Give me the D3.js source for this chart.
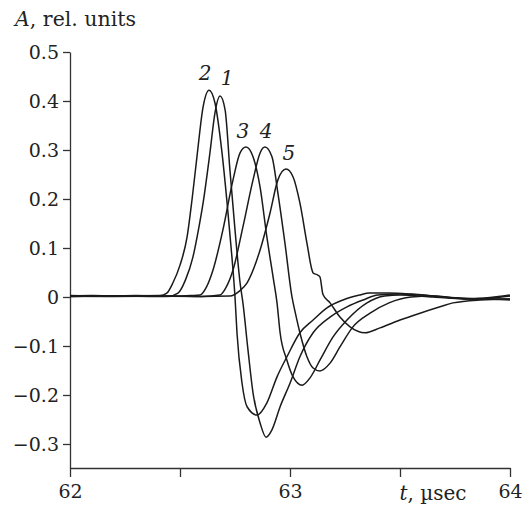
<!DOCTYPE html>
<html>
<head>
<meta charset="utf-8">
<script src="https://cdn.jsdelivr.net/npm/d3@7.9.0/dist/d3.min.js"></script>
<style>
  body { margin: 0; background: #fff; }
  svg text { font-family: "DejaVu Serif", "Liberation Serif", serif !important; fill: #222; }
</style>
</head>
<body>
<svg id="chart" width="523" height="510"></svg>
<script>
// time in microseconds, amplitude in relative units
const curve1 = [
  [62.0, 0.003], [62.15, 0.002], [62.3, 0.003], [62.45, 0.002], [62.491, 0.008],
  [62.525, 0.035], [62.559, 0.082], [62.585, 0.14], [62.605, 0.192], [62.636, 0.294],
  [62.659, 0.376], [62.682, 0.41], [62.705, 0.382], [62.727, 0.259], [62.75, 0.137],
  [62.773, 0.029], [62.786, -0.012], [62.809, -0.108], [62.832, -0.196], [62.864, -0.257],
  [62.891, -0.286], [62.918, -0.271], [62.955, -0.224], [63.0, -0.176], [63.045, -0.122],
  [63.105, -0.073], [63.182, -0.041], [63.259, -0.02], [63.332, -0.006], [63.4, 0.004],
  [63.5, 0.006], [63.6, 0.004], [63.75, -0.002], [63.9, -0.004], [64.0, -0.006]
];
const curve2 = [
  [62.0, 0.002], [62.1, 0.003], [62.25, 0.002], [62.409, 0.003], [62.44, 0.008],
  [62.468, 0.029], [62.5, 0.065], [62.532, 0.122], [62.555, 0.2], [62.577, 0.286],
  [62.605, 0.388], [62.632, 0.422], [62.659, 0.396], [62.691, 0.294], [62.714, 0.192],
  [62.736, 0.082], [62.75, 0.0], [62.759, -0.073], [62.782, -0.176], [62.805, -0.224],
  [62.85, -0.241], [62.895, -0.216], [62.941, -0.163], [62.986, -0.122], [63.045, -0.073],
  [63.105, -0.047], [63.168, -0.022], [63.241, -0.006], [63.318, 0.004], [63.36, 0.008],
  [63.45, 0.008], [63.55, 0.006], [63.7, 0.0], [63.85, -0.004], [64.0, 0.002]
];
const curve3 = [
  [62.0, 0.001], [62.2, 0.002], [62.4, 0.001], [62.55, 0.003], [62.591, 0.004],
  [62.62, 0.02], [62.65, 0.055], [62.695, 0.137], [62.741, 0.239], [62.773, 0.294],
  [62.8, 0.306], [62.832, 0.286], [62.864, 0.224], [62.895, 0.122], [62.923, 0.041],
  [62.941, -0.012], [62.955, -0.073], [62.986, -0.129], [63.014, -0.163], [63.055, -0.18],
  [63.091, -0.165], [63.136, -0.129], [63.195, -0.082], [63.259, -0.047], [63.35, -0.012],
  [63.43, 0.002], [63.5, 0.004], [63.65, 0.0], [63.8, -0.004], [64.0, -0.004]
];
const curve4 = [
  [62.0, 0.002], [62.2, 0.001], [62.45, 0.002], [62.6, 0.001], [62.682, 0.004],
  [62.71, 0.02], [62.741, 0.055], [62.786, 0.143], [62.832, 0.239], [62.864, 0.294],
  [62.886, 0.306], [62.918, 0.286], [62.945, 0.212], [62.977, 0.11], [63.009, 0.0],
  [63.023, -0.03], [63.045, -0.073], [63.077, -0.122], [63.105, -0.145], [63.136, -0.151],
  [63.182, -0.135], [63.227, -0.102], [63.286, -0.061], [63.364, -0.033], [63.45, -0.012],
  [63.55, 0.0], [63.65, 0.002], [63.8, -0.004], [64.0, 0.004]
];
const curve5 = [
  [62.0, 0.001], [62.3, 0.002], [62.6, 0.001], [62.727, 0.002], [62.77, 0.012],
  [62.805, 0.029], [62.864, 0.096], [62.909, 0.171], [62.945, 0.239], [62.982, 0.261],
  [63.014, 0.245], [63.045, 0.192], [63.077, 0.11], [63.1, 0.055], [63.105, 0.049],
  [63.125, 0.045], [63.136, 0.041], [63.15, 0.005], [63.182, -0.012], [63.227, -0.041],
  [63.273, -0.061], [63.341, -0.073], [63.409, -0.063], [63.5, -0.047], [63.591, -0.033],
  [63.682, -0.02], [63.741, -0.012], [63.864, -0.006], [64.0, -0.004]
];
const curveNames = ['1', '2', '3', '4', '5'];
// label anchor for each curve: [t, A]
const labelSpots = [[62.714, 0.432], [62.614, 0.442], [62.786, 0.324], [62.891, 0.324], [62.995, 0.279]];

const xTicks = [62, 62.5, 63, 63.5, 64];
const xTickLabels = ['62', '', '63', '', '64'];
const yTicks = [-0.3, -0.2, -0.1, 0, 0.1, 0.2, 0.3, 0.4, 0.5];

const svg = d3.select('#chart');

let x = d3.scaleLinear().domain([62, 64]).range([70, 510]);
let y = d3.scaleLinear().domain([-0.349, 0.5]).range([468, 52]);

// axes
let xAxis = d3.axisBottom(x)
  .tickValues(xTicks)
  .tickFormat((d, i) => xTickLabels[i])
  .tickSize(9)
  .tickSizeOuter(0)
  .tickPadding(8);

let yAxis = d3.axisLeft(y)
  .tickValues(yTicks)
  .tickFormat(d => d === 0 ? '0' : d3.format('.1f')(d).replace('-', '\u2212'))
  .tickSize(7)
  .tickSizeOuter(0)
  .tickPadding(4);

let gx = svg.append('g').attr('transform', 'translate(0,468)').call(xAxis);
let gy = svg.append('g').attr('transform', 'translate(70,0)').call(yAxis);

[gx, gy].forEach(g => {
  g.attr('font-family', null);
  g.selectAll('path, line').attr('stroke', '#333').attr('stroke-width', 1.3);
  g.selectAll('text').attr('font-size', 19).attr('fill', '#222');
});
gy.selectAll('text').attr('dy', '0.35em');

// axis titles
svg.append('text')
  .attr('x', 15).attr('y', 26)
  .attr('font-size', 20.5)
  .html('<tspan font-style="italic">A</tspan>, rel. units');

svg.append('text')
  .attr('x', 433).attr('y', 500)
  .attr('text-anchor', 'middle')
  .attr('font-size', 20)
  .html('<tspan font-style="italic">t</tspan>, \u00b5sec');

// curves
let line = d3.line()
  .x(d => x(d[0]))
  .y(d => y(d[1]))
  .curve(d3.curveMonotoneX);

[curve1, curve2, curve3, curve4, curve5].forEach(c => {
  svg.append('path')
    .attr('d', line(c))
    .attr('fill', 'none')
    .attr('stroke', '#1a1a1a')
    .attr('stroke-width', 1.5);
});

curveNames.forEach((name, i) => {
  svg.append('text')
    .attr('x', x(labelSpots[i][0]))
    .attr('y', y(labelSpots[i][1]))
    .attr('text-anchor', 'middle')
    .attr('font-size', 20)
    .attr('font-style', 'italic')
    .text(name);
});
</script>
</body>
</html>
